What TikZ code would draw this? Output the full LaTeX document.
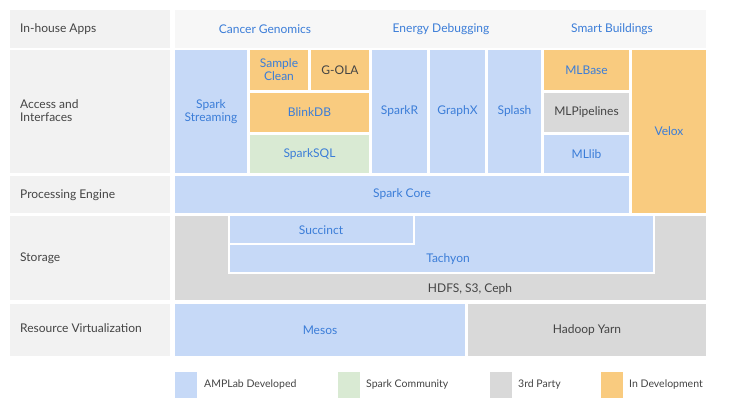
\documentclass[tikz,border=0pt]{standalone}
\usepackage{fontspec}
\setmainfont{Lato}
\definecolor{cblue}{HTML}{C6D9F7}
\definecolor{corange}{HTML}{F9CB7F}
\definecolor{cgreen}{HTML}{D9EAD3}
\definecolor{cgray}{HTML}{D9D9D9}
\definecolor{clabel}{HTML}{F2F2F2}
\definecolor{tblue}{HTML}{3B7DD8}
\definecolor{tdark}{HTML}{444444}
\tikzset{box/.style={inner sep=0pt,align=center,font=\fontsize{12}{13}\selectfont,text=tblue},
lab/.style={box,text=tdark,align=left}}
\newcommand{\bx}[7][tblue]{\node[box,fill=#7,text=#1,minimum width=#4pt-#2pt,minimum height=#5pt-#3pt] (#6) at ({(#2+#4)/2},{(#3+#5)/2}) {};}
\begin{document}
\begin{tikzpicture}[x=1pt,y=-1pt]
\useasboundingbox[fill=white] (0,0) rectangle (730,416);
% label column
\foreach \a/\b/\n in {10/48/la,50/173/lb,176/213/lc,216/300/ld,304/356/le}{
 \node[fill=clabel,inner sep=0pt,minimum width=160pt,minimum height=\b pt-\a pt] (\n) at (90,{(\a+\b)/2}) {};}
\node[lab,anchor=west] at (20,29) {In-house Apps};
\node[lab,anchor=west] at (20,111) {Access and\\Interfaces};
\node[lab,anchor=west] at (20,195) {Processing Engine};
\node[lab,anchor=west] at (20,258) {Storage};
\node[lab,anchor=west] at (20,328) {Resource Virtualization};
% apps row
\bx{175}{10}{706}{48}{apps}{clabel!60}
\node[box] at (265,29) {Cancer Genomics};
\node[box] at (441,29) {Energy Debugging};
\node[box] at (612,29) {Smart Buildings};
% access
\bx{175}{50}{247}{173}{ss}{cblue} \node[box] at (ss) {Spark\\Streaming};
\bx{250}{50}{308}{90}{sc}{corange} \node[box] at (sc) {Sample\\Clean};
\bx{311}{50}{369}{90}{go}{corange} \node[box,text=tdark] at (go) {G-OLA};
\bx{250}{93}{369}{132}{bd}{corange} \node[box] at (bd) {BlinkDB};
\bx{250}{135}{369}{173}{sq}{cgreen} \node[box] at (sq) {SparkSQL};
\bx{372}{50}{427}{173}{sr}{cblue} \node[box] at (sr) {SparkR};
\bx{430}{50}{485}{173}{gx}{cblue} \node[box] at (gx) {GraphX};
\bx{488}{50}{541}{173}{sp}{cblue} \node[box] at (sp) {Splash};
\bx{544}{50}{629}{90}{mb}{corange} \node[box] at (mb) {MLBase};
\bx{544}{93}{629}{132}{mp}{cgray} \node[box,text=tdark] at (mp) {MLPipelines};
\bx{544}{135}{629}{173}{ml}{cblue} \node[box] at (ml) {MLlib};
\bx{632}{50}{706}{213}{vx}{corange} \node[box] at (vx) {Velox};
\bx{175}{176}{629}{213}{core}{cblue} \node[box] at (core) {Spark Core};
% storage
\bx{175}{216}{706}{300}{st}{cgray}
\draw[fill=cblue,draw=white,line width=1.2pt] (229,215) rectangle (654,273);
\draw[fill=cblue,draw=white,line width=1.2pt] (229,215) rectangle (414,244);
\node[box] (suc) at (321,230) {Succinct};
\node[box] (tach) at (448,259) {Tachyon};
\node[box,text=tdark] (hdfs) at (470,289) {HDFS, S3, Ceph};
% resource
\bx{175}{304}{465}{356}{mes}{cblue} \node[box] at (mes) {Mesos};
\bx{468}{304}{706}{356}{yarn}{cgray} \node[box,text=tdark] at (yarn) {Hadoop Yarn};
% legend
\bx{175}{372}{197}{398}{l1}{cblue} \node[box,text=tdark,anchor=west,font=\fontsize{10.5}{12}\selectfont] at (204,385) {AMPLab Developed};
\bx{338}{372}{360}{398}{l2}{cgreen} \node[box,text=tdark,anchor=west,font=\fontsize{10.5}{12}\selectfont] at (366,385) {Spark Community};
\bx{490}{372}{512}{398}{l3}{cgray} \node[box,text=tdark,anchor=west,font=\fontsize{10.5}{12}\selectfont] at (518,385) {3rd Party};
\bx{601}{372}{623}{398}{l4}{corange} \node[box,text=tdark,anchor=west,font=\fontsize{10.5}{12}\selectfont] at (629,385) {In Development};
\end{tikzpicture}
\end{document}
